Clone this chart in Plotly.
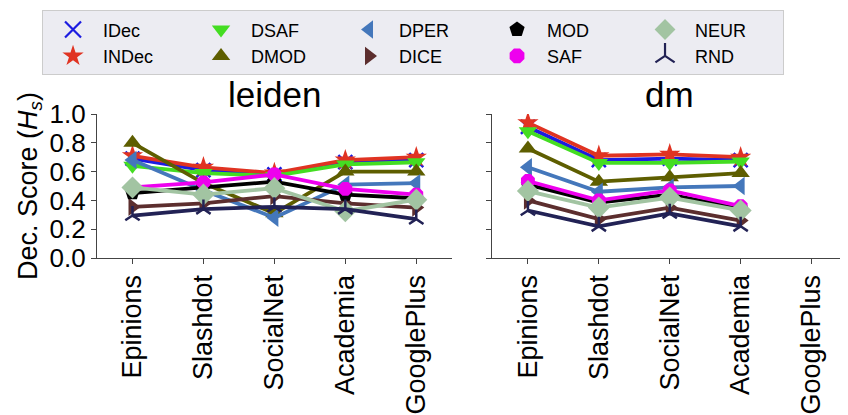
import plotly.graph_objects as go

categories = ["Epinions", "Slashdot", "SocialNet", "Academia", "GooglePlus"]
panels = ["leiden", "dm"]
methods = ["IDec", "INDec", "DSAF", "DMOD", "DPER", "DICE", "MOD", "SAF", "NEUR", "RND"]

leiden = {
    "IDec":  [0.69, 0.61, 0.58, 0.665, 0.68],
    "INDec": [0.71, 0.63, 0.59, 0.68, 0.70],
    "DSAF":  [0.64, 0.59, 0.57, 0.65, 0.665],
    "DMOD":  [0.80, 0.52, 0.31, 0.60, 0.60],
    "DPER":  [0.68, 0.47, 0.28, 0.51, 0.52],
    "DICE":  [0.355, 0.38, 0.43, 0.38, 0.35],
    "MOD":   [0.45, 0.49, 0.53, 0.44, 0.415],
    "SAF":   [0.49, 0.525, 0.58, 0.48, 0.44],
    "NEUR":  [0.49, 0.44, 0.485, 0.325, 0.405],
    "RND":   [0.295, 0.34, 0.355, 0.34, 0.27],
}
dm = {
    "IDec":  [0.91, 0.68, 0.69, 0.68, None],
    "INDec": [0.94, 0.71, 0.72, 0.70, None],
    "DSAF":  [0.88, 0.66, 0.66, 0.67, None],
    "DMOD":  [0.76, 0.53, 0.56, 0.59, None],
    "DPER":  [0.63, 0.46, 0.49, 0.50, None],
    "DICE":  [0.40, 0.27, 0.35, 0.26, None],
    "MOD":   [0.51, 0.385, 0.44, 0.345, None],
    "SAF":   [0.535, 0.40, 0.47, 0.36, None],
    "NEUR":  [0.465, 0.35, 0.42, 0.33, None],
    "RND":   [0.33, 0.22, 0.31, 0.22, None],
}
y_ticks = [0.0, 0.2, 0.4, 0.6, 0.8, 1.0]

styles = {
    "IDec":  dict(color="#1c1ce0", symbol="x-thin", size=14, lw=2.5),
    "INDec": dict(color="#e03322", symbol="star", size=16, lw=0),
    "DSAF":  dict(color="#44dd22", symbol="triangle-down", size=16, lw=0),
    "DMOD":  dict(color="#5e5e00", symbol="triangle-up", size=16, lw=0),
    "DPER":  dict(color="#4477bb", symbol="triangle-left", size=16, lw=0),
    "DICE":  dict(color="#5c2e2e", symbol="triangle-right", size=16, lw=0),
    "MOD":   dict(color="#000000", symbol="pentagon", size=15, lw=0),
    "SAF":   dict(color="#ee00ee", symbol="octagon", size=15, lw=0),
    "NEUR":  dict(color="#a2c4a2", symbol="diamond", size=17, lw=0),
    "RND":   dict(color="#222255", symbol="y-up", size=12, lw=2.5),
}
# column-major legend order (2 rows)
legend_rank = {m: (i % 2) * 100 + (i // 2) for i, m in enumerate(methods)}

FONT = "Liberation Sans, Arial, sans-serif"
fig = go.Figure()
for p_i, data in enumerate([leiden, dm]):
    xa = "x" if p_i == 0 else "x2"
    ya = "y" if p_i == 0 else "y2"
    for m in methods:
        s = styles[m]
        open_sym = s["symbol"] in ("x-thin", "y-up")
        fig.add_trace(go.Scatter(
            x=categories, y=data[m], name=m, mode="lines+markers",
            xaxis=xa, yaxis=ya, showlegend=False,
            line=dict(color=s["color"], width=3.8),
            marker=dict(symbol=s["symbol"], size=s["size"], color=s["color"],
                        line=dict(color=s["color"], width=s["lw"] if open_sym else 0)),
        ))

# legend-only entries (marker only, like the reference legend)
for m in methods:
    s = styles[m]
    open_sym = s["symbol"] in ("x-thin", "y-up")
    fig.add_trace(go.Scatter(
        x=[None], y=[None], name=m, mode="markers", legendrank=legend_rank[m],
        marker=dict(symbol=s["symbol"], size=16, color=s["color"],
                    line=dict(color=s["color"], width=2.2 if open_sym else 0)),
    ))

axis_common = dict(
    showgrid=False, zeroline=False, showline=True, linecolor="#444444", linewidth=1.2,
    ticks="outside", ticklen=5, tickcolor="#444444", automargin=False,
)
xfont = dict(family=FONT, size=27, color="black")
yfont = dict(family=FONT, size=26, color="black")
fig.update_layout(
    width=848, height=415,
    margin=dict(l=89, r=8.5, t=106, b=164.5, autoexpand=False),
    paper_bgcolor="white", plot_bgcolor="white",
    font=dict(family=FONT, color="black"),
    xaxis=dict(domain=[0, 0.473], type="category", categoryorder="array",
               categoryarray=categories, range=[-0.5, 4.5], tickangle=-90,
               anchor="y", tickfont=xfont, **axis_common),
    xaxis2=dict(domain=[0.5273, 1.0], type="category", categoryorder="array",
                categoryarray=categories, range=[-0.5, 4.5], tickangle=-90,
                anchor="y2", tickfont=xfont, **axis_common),
    yaxis=dict(range=[0, 1.0], tickvals=y_ticks, ticktext=[f"{v:.1f}" for v in y_ticks],
               anchor="x", tickfont=yfont,
               title=dict(text="Dec. Score (<i>H</i><sub><i>s</i></sub>)",
                          font=dict(family=FONT, size=27), standoff=4),
               **axis_common),
    yaxis2=dict(range=[0, 1.0], tickvals=y_ticks, showticklabels=False, anchor="x2",
                matches="y", tickfont=yfont, **axis_common),
    legend=dict(orientation="h", x=-0.0733, xanchor="left", y=1.72, yanchor="top",
                entrywidth=83, entrywidthmode="pixels", itemwidth=50,
                bgcolor="#ececf2", bordercolor="#cccccc", borderwidth=1,
                font=dict(family=FONT, size=18), tracegroupgap=0, itemsizing="trace"),
    annotations=[
        dict(text=panels[0], x=0.2365, y=1.0, xref="paper", yref="paper",
             xanchor="center", yanchor="bottom", yshift=-2, showarrow=False,
             font=dict(family=FONT, size=35)),
        dict(text=panels[1], x=0.7637, y=1.0, xref="paper", yref="paper",
             xanchor="center", yanchor="bottom", yshift=-2, showarrow=False,
             font=dict(family=FONT, size=35)),
    ],
)
fig.write_html("out.html")
